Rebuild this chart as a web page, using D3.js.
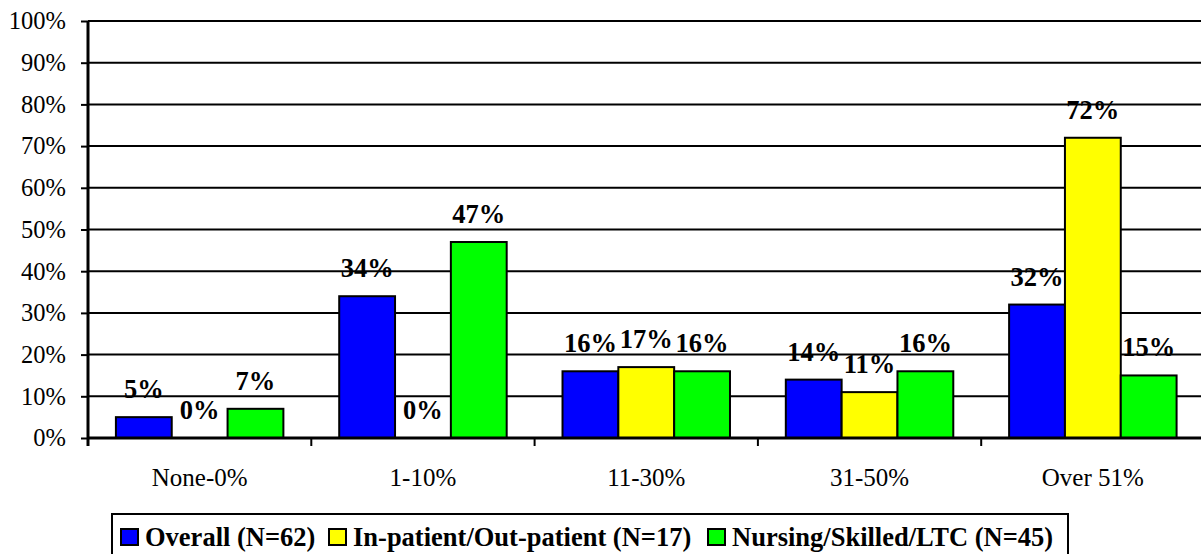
<!DOCTYPE html>
<html>
<head>
<meta charset="utf-8">
<script src="https://cdn.jsdelivr.net/npm/d3@7"></script>
<style>
  body { margin: 0; background: #fff; }
  svg { display: block; }
  svg text { font-family: "Liberation Serif", "Times New Roman", serif; fill: #000; }
</style>
</head>
<body>
<svg id="chart"></svg>
<script>
const categories = ["None-0%", "1-10%", "11-30%", "31-50%", "Over 51%"];
const seriesNames = ["Overall (N=62)", "In-patient/Out-patient (N=17)", "Nursing/Skilled/LTC (N=45)"];
const overall = [5, 34, 16, 14, 32];
const inpatient = [0, 0, 17, 11, 72];
const nursing = [7, 47, 16, 16, 15];
const yTicks = [0, 10, 20, 30, 40, 50, 60, 70, 80, 90, 100];
const colors = ["#0000ff", "#ffff00", "#00ff00"];

const seriesValues = [overall, inpatient, nursing];

let width = 1201;
let height = 554;
let plotLeft = 88;
let plotRight = 1204.5;
let plotTop = 21;
let plotBottom = 438;

let svg = d3.select("#chart").attr("width", width).attr("height", height);

const xScale = d3.scaleBand().domain(categories).range([plotLeft, plotRight]).padding(0);
const xInner = d3.scaleBand().domain(d3.range(3)).range([0, xScale.bandwidth()])
    .paddingInner(0).paddingOuter(0.5);
const yScale = d3.scaleLinear().domain([0, 100]).range([plotBottom, plotTop]);

// gridlines
svg.append("g")
    .attr("class", "grid")
    .selectAll("line")
    .data(yTicks)
    .enter()
    .append("line")
    .attr("x1", plotLeft)
    .attr("x2", plotRight)
    .attr("y1", d => yScale(d))
    .attr("y2", d => yScale(d))
    .attr("stroke", "#000")
    .attr("stroke-width", 2);

// y axis
const yAxis = d3.axisLeft(yScale).tickValues(yTicks).tickFormat(d => d + "%")
    .tickSize(7).tickPadding(15);
const gy = svg.append("g")
    .attr("transform", "translate(" + plotLeft + ",0)")
    .call(yAxis);
gy.select(".domain").remove();
gy.selectAll(".tick line").attr("stroke", "#000").attr("stroke-width", 2);
gy.selectAll(".tick text").style("font-size", "24.5px");

// bars
const rows = [];
categories.forEach((c, i) => {
    seriesValues.forEach((vals, s) => rows.push({ cat: c, s: s, v: vals[i] }));
});

svg.append("g")
    .selectAll("rect")
    .data(rows.filter(d => d.v > 0))
    .enter()
    .append("rect")
    .attr("x", d => xScale(d.cat) + xInner(d.s))
    .attr("y", d => yScale(d.v))
    .attr("width", xInner.bandwidth())
    .attr("height", d => yScale(0) - yScale(d.v))
    .attr("fill", d => colors[d.s])
    .attr("stroke", "#000")
    .attr("stroke-width", 2);

// value labels
svg.append("g")
    .selectAll("text")
    .data(rows)
    .enter()
    .append("text")
    .attr("x", d => xScale(d.cat) + xInner(d.s) + xInner.bandwidth() / 2)
    .attr("y", d => yScale(d.v) - 19)
    .attr("text-anchor", "middle")
    .style("font-size", "26.5px")
    .style("font-weight", "bold")
    .text(d => d.v + "%");

// x axis
const xAxis = d3.axisBottom(xScale).tickSize(0).tickPadding(30);
const gx = svg.append("g")
    .attr("transform", "translate(0," + plotBottom + ")")
    .call(xAxis);
gx.select(".domain").remove();
gx.selectAll(".tick text").style("font-size", "25px");

svg.append("g")
    .selectAll("line")
    .data(categories)
    .enter()
    .append("line")
    .attr("x1", d => xScale(d))
    .attr("x2", d => xScale(d))
    .attr("y1", plotBottom)
    .attr("y2", plotBottom + 8)
    .attr("stroke", "#000")
    .attr("stroke-width", 2);

svg.append("line")
    .attr("x1", plotLeft).attr("x2", plotRight)
    .attr("y1", plotBottom).attr("y2", plotBottom)
    .attr("stroke", "#000").attr("stroke-width", 3);
svg.append("line")
    .attr("x1", plotLeft).attr("x2", plotLeft)
    .attr("y1", plotTop).attr("y2", plotBottom + 8)
    .attr("stroke", "#000").attr("stroke-width", 3);

// legend
const legend = svg.append("g");
legend.append("rect")
    .attr("x", 112).attr("y", 514)
    .attr("width", 956).attr("height", 60)
    .attr("fill", "#fff").attr("stroke", "#000").attr("stroke-width", 2);

const legendX = [121, 329, 708];
seriesNames.forEach((name, i) => {
    const lx = legendX[i];
    legend.append("rect")
        .attr("x", lx).attr("y", 529)
        .attr("width", 17).attr("height", 16)
        .attr("fill", colors[i]).attr("stroke", "#000").attr("stroke-width", 2);
    legend.append("text")
        .attr("x", lx + 24).attr("y", 546)
        .style("font-size", "26.5px")
        .style("font-weight", "bold")
        .text(name);
});
</script>
</body>
</html>
